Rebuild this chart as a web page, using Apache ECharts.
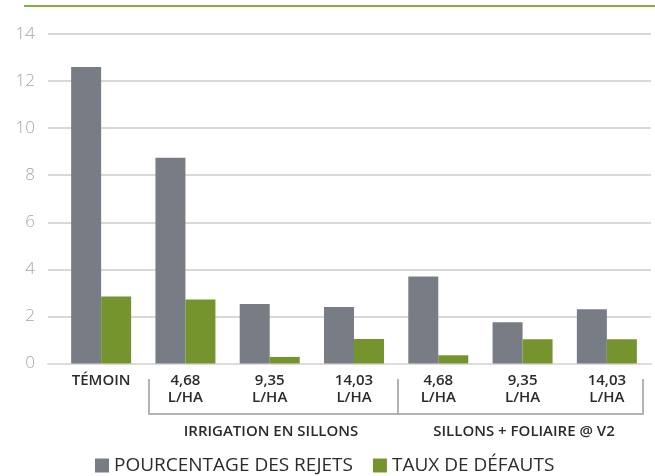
<!DOCTYPE html>
<html>
<head>
<meta charset="utf-8">
<script src="https://cdn.jsdelivr.net/npm/echarts@6/dist/echarts.min.js"></script>
<style>
  html, body { margin: 0; padding: 0; background: #fff; }
  #chart { width: 655px; height: 476px; }
</style>
</head>
<body>
<div id="chart"></div>
<script>
  // catégories (axe x)
  var categories = ['TÉMOIN', '4,68\nL/HA', '9,35\nL/HA', '14,03\nL/HA', '4,68\nL/HA', '9,35\nL/HA', '14,03\nL/HA'];
  var groupNames = ['IRRIGATION EN SILLONS', 'SILLONS + FOLIAIRE @ V2'];
  var seriesNames = ['POURCENTAGE DES REJETS', 'TAUX DE DÉFAUTS'];
  // valeurs
  var rejets = [12.6, 8.74, 2.53, 2.4, 3.7, 1.75, 2.3];
  var defauts = [2.85, 2.72, 0.28, 1.04, 0.35, 1.03, 1.03];
  var yTicks = [0, 2, 4, 6, 8, 10, 12, 14];

  var myChart = echarts.init(document.getElementById('chart'));
  var font = '"Open Sans", "Noto Sans", sans-serif';

  var option = {
    animation: false,
    color: ['#787c84', '#76942e'],
    textStyle: { fontFamily: font },
    legend: {
      data: seriesNames,
      left: 90,
      top: 451,
      itemWidth: 14,
      itemHeight: 14,
      itemGap: 20,
      icon: 'rect',
      textStyle: { fontSize: 19, color: '#2b2b2b', fontFamily: font }
    },
    grid: [
      { left: 48, right: 4, top: 34, bottom: 112.5 },  // grille + axe y
      { left: 59, right: 6, top: 34, bottom: 112.5 }   // barres
    ],
    xAxis: [
      {
        gridIndex: 0, type: 'value', min: 0, max: 1,
        axisLine: { show: true, lineStyle: { color: '#dcdcdc', width: 2 } },
        axisTick: { show: false }, axisLabel: { show: false }, splitLine: { show: false }
      },
      {
        gridIndex: 1, type: 'category', data: categories,
        axisLine: { show: false }, axisTick: { show: false },
        axisLabel: {
          interval: 0, margin: 9, fontSize: 15, fontWeight: 600,
          lineHeight: 17, color: '#2b2b2b', fontFamily: font
        }
      }
    ],
    yAxis: [
      {
        gridIndex: 0, type: 'value', min: yTicks[0], max: yTicks[yTicks.length - 1], interval: 2,
        axisLine: { show: false }, axisTick: { show: false },
        axisLabel: { margin: 13, fontSize: 17, fontWeight: 300, color: '#a3a6a9', fontFamily: font },
        splitLine: { lineStyle: { color: '#c8cdd1', width: 1.5 } }
      },
      {
        gridIndex: 1, type: 'value', min: yTicks[0], max: yTicks[yTicks.length - 1],
        show: false, splitLine: { show: false }
      }
    ],
    series: [
      {
        name: seriesNames[0], type: 'bar', xAxisIndex: 1, yAxisIndex: 1,
        data: rejets, barWidth: 30, barGap: '0%'
      },
      {
        name: seriesNames[1], type: 'bar', xAxisIndex: 1, yAxisIndex: 1,
        data: defauts, barWidth: 30, barGap: '0%'
      }
    ],
    graphic: [
      // trait vert en haut
      { type: 'line', shape: { x1: 24, y1: 6, x2: 655, y2: 6 }, style: { stroke: '#84ad45', lineWidth: 2 } },
      // accolades des groupes
      { type: 'polyline', shape: { points: [[149, 379], [149, 414], [643, 414], [643, 379]] }, style: { stroke: '#9a9a9a', lineWidth: 1.5, fill: null } },
      { type: 'line', shape: { x1: 398, y1: 379, x2: 398, y2: 414 }, style: { stroke: '#9a9a9a', lineWidth: 1.5 } },
      { type: 'text', x: 271, y: 432, style: { text: groupNames[0], fontSize: 15, fontWeight: 600, fill: '#2b2b2b', fontFamily: font, textAlign: 'center', textVerticalAlign: 'middle' } },
      { type: 'text', x: 524, y: 432, style: { text: groupNames[1], fontSize: 15, fontWeight: 600, fill: '#2b2b2b', fontFamily: font, textAlign: 'center', textVerticalAlign: 'middle' } }
    ]
  };
  myChart.setOption(option);
</script>
</body>
</html>
